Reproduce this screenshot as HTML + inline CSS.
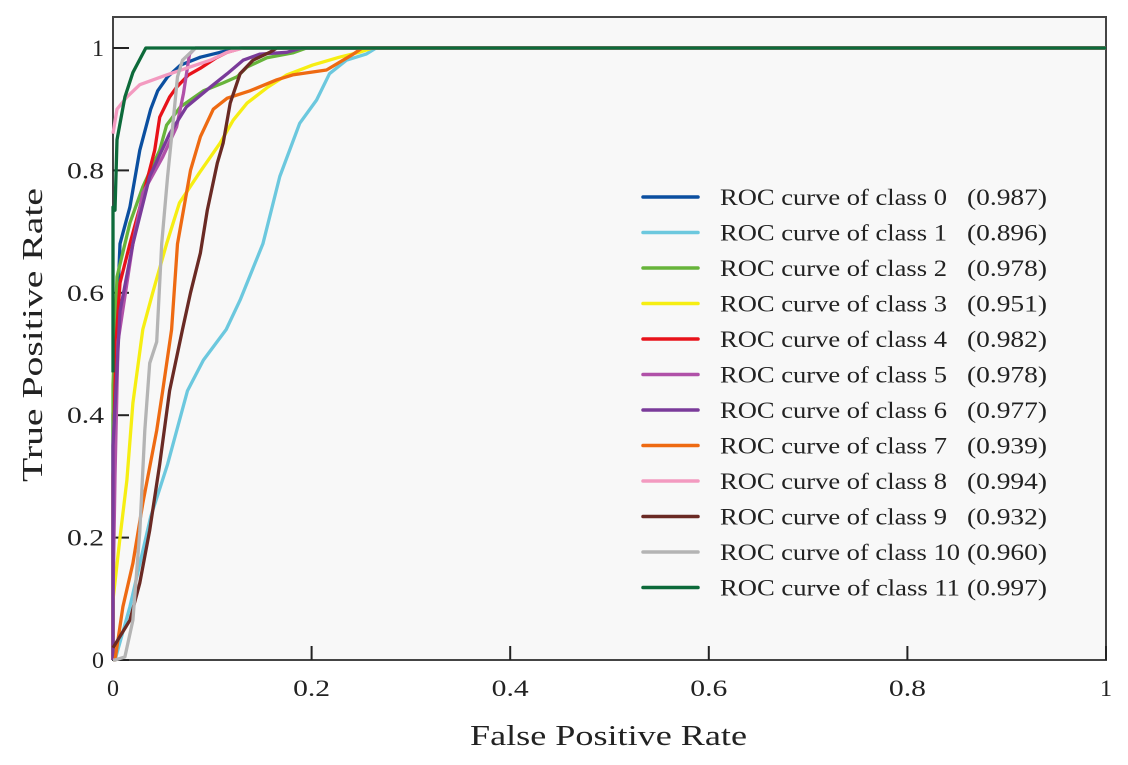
<!DOCTYPE html>
<html><head><meta charset="utf-8"><style>
html,body{margin:0;padding:0;background:#fff;}
svg{display:block;font-family:"Liberation Serif",serif;}
</style></head><body>
<svg id="chart" width="1128" height="765">
<rect x="113" y="17" width="993" height="643" fill="#f8f8f8" stroke="#444" stroke-width="2"/>
<g id="ticks"></g>
<g id="curves"></g>
<g id="legend"></g>
<text x="470" y="745" font-size="29" textLength="277" lengthAdjust="spacingAndGlyphs" fill="#222">False Positive Rate</text>
<text transform="translate(42,482) rotate(-90)" font-size="29" textLength="294" lengthAdjust="spacingAndGlyphs" fill="#222">True Positive Rate</text>
</svg>
<script>
const classNames = ["0","1","2","3","4","5","6","7","8","9","10","11"];
const aucValues = ["0.987","0.896","0.978","0.951","0.982","0.978","0.977","0.939","0.994","0.932","0.960","0.997"];
const colors = ["#0b4fa0","#6cc8de","#67b43a","#f6ee12","#e8121a","#b051a8","#7a3b9a","#ee6a12","#f39ac0","#6a2a24","#b4b4b4","#0d6a3a"];
const xTicks = [0,0.2,0.4,0.6,0.8,1];
const yTicks = [0,0.2,0.4,0.6,0.8,1];
const curve0 = [[0,0],[0,0.4],[0.007,0.68],[0.017,0.74],[0.027,0.833],[0.038,0.9],[0.045,0.93],[0.055,0.953],[0.068,0.972],[0.088,0.985],[0.108,0.993],[0.128,1],[1,1]];
const curve1 = [[0,0],[0.002,0],[0.017,0.087],[0.038,0.234],[0.055,0.32],[0.075,0.44],[0.091,0.49],[0.114,0.54],[0.128,0.588],[0.151,0.68],[0.168,0.79],[0.188,0.877],[0.205,0.915],[0.218,0.958],[0.235,0.98],[0.255,0.99],[0.265,1],[1,1]];
const curve2 = [[0,0],[0,0.45],[0.004,0.626],[0.017,0.714],[0.030,0.773],[0.047,0.833],[0.054,0.874],[0.068,0.904],[0.091,0.93],[0.111,0.943],[0.125,0.953],[0.135,0.969],[0.155,0.984],[0.181,0.992],[0.195,1],[1,1]];
const curve3 = [[0,0],[0,0.098],[0.007,0.2],[0.014,0.294],[0.02,0.42],[0.03,0.54],[0.04,0.6],[0.054,0.68],[0.067,0.747],[0.087,0.796],[0.108,0.845],[0.121,0.882],[0.135,0.91],[0.155,0.935],[0.175,0.956],[0.201,0.972],[0.228,0.985],[0.248,0.993],[0.261,1],[1,1]];
const curve4 = [[0,0],[0,0.3],[0.003,0.52],[0.007,0.616],[0.017,0.68],[0.030,0.757],[0.042,0.833],[0.047,0.887],[0.057,0.92],[0.064,0.936],[0.076,0.956],[0.088,0.967],[0.104,0.984],[0.115,0.993],[0.13,1],[1,1]];
const curve5 = [[0,0],[0,0.1],[0.002,0.3],[0.005,0.52],[0.02,0.68],[0.03,0.763],[0.05,0.822],[0.064,0.871],[0.071,0.926],[0.077,0.99],[0.083,1],[1,1]];
const curve6 = [[0,0],[0,0.35],[0.007,0.57],[0.02,0.68],[0.037,0.79],[0.057,0.86],[0.074,0.904],[0.098,0.936],[0.115,0.958],[0.131,0.98],[0.148,0.99],[0.175,0.993],[0.19,1],[1,1]];
const curve7 = [[0,0],[0.002,0],[0.01,0.087],[0.02,0.158],[0.03,0.256],[0.044,0.375],[0.05,0.44],[0.059,0.54],[0.065,0.68],[0.078,0.8],[0.088,0.855],[0.101,0.9],[0.115,0.918],[0.138,0.93],[0.165,0.948],[0.181,0.956],[0.215,0.964],[0.241,0.989],[0.251,1],[1,1]];
const curve8 = [[0,0.86],[0.004,0.9],[0.014,0.92],[0.027,0.94],[0.054,0.956],[0.074,0.967],[0.098,0.98],[0.115,0.993],[0.131,1],[1,1]];
const curve9 = [[0,0.02],[0.017,0.065],[0.027,0.126],[0.037,0.212],[0.047,0.32],[0.057,0.44],[0.07,0.54],[0.078,0.6],[0.088,0.665],[0.095,0.735],[0.105,0.812],[0.111,0.845],[0.118,0.91],[0.128,0.958],[0.141,0.98],[0.158,0.993],[0.165,1],[1,1]];
const curve10 = [[0,0],[0.002,0],[0.012,0.005],[0.02,0.065],[0.027,0.21],[0.032,0.375],[0.037,0.485],[0.044,0.52],[0.049,0.68],[0.055,0.79],[0.06,0.871],[0.065,0.953],[0.07,0.98],[0.083,1],[1,1]];
const curve11 = [[0,0.47],[0,0.74],[0.002,0.735],[0.004,0.85],[0.012,0.92],[0.02,0.96],[0.033,1],[1,1]];
const curves = [curve0,curve1,curve2,curve3,curve4,curve5,curve6,curve7,curve8,curve9,curve10,curve11];

const NS = "http://www.w3.org/2000/svg";
const X0 = 113, X1 = 1106, Y0 = 660, Y1 = 48;
function sx(v){ return X0 + v*(X1-X0); }
function sy(v){ return Y0 - v*(Y0-Y1); }
function mk(tag, attrs, parent){
  const e = document.createElementNS(NS, tag);
  for (const k in attrs) e.setAttribute(k, attrs[k]);
  parent.appendChild(e);
  return e;
}
function tw(s){ return s.length === 1 ? 12 : 37; }
const tg = document.getElementById('ticks');
xTicks.forEach((t,i)=>{
  const l = mk('line',{x1:sx(t),x2:sx(t),y1:Y0,y2:Y0-14,stroke:'#222','stroke-width':2},tg);
  
  
  const s = String(t);
  const tx = mk('text',{x:sx(t)-tw(s)/2,y:696,'font-size':23,fill:'#222',textLength:tw(s),lengthAdjust:'spacingAndGlyphs'},tg);
  tx.textContent = s;
  
  
});
yTicks.forEach((t,i)=>{
  const l = mk('line',{x1:X0,x2:X0+16,y1:sy(t),y2:sy(t),stroke:'#222','stroke-width':2},tg);
  
  
  const s = String(t);
  const tx = mk('text',{x:104-tw(s),y:sy(t)+8,'font-size':23,fill:'#222',textLength:tw(s),lengthAdjust:'spacingAndGlyphs'},tg);
  tx.textContent = s;
  
  
});
const cg = document.getElementById('curves');
curves.forEach((c,i)=>{
  const d = c.map((p,j)=>(j?'L':'M')+sx(p[0]).toFixed(1)+','+sy(p[1]).toFixed(1)).join(' ');
  const p = mk('path',{d:d,fill:'none',stroke:colors[i],'stroke-width':3.3,'stroke-linejoin':'round'},cg);
  
  
});
const lg = document.getElementById('legend');
classNames.forEach((n,i)=>{
  const y = 197 + i*35.5;
  const l = mk('line',{x1:643,x2:698,y1:y,y2:y,stroke:colors[i],'stroke-width':3.5,'stroke-linecap':'round'},lg);
  
  
  const t = mk('text',{x:720,y:y+8,'font-size':23,fill:'#222',textLength:(n.length>1?240:227),lengthAdjust:'spacingAndGlyphs'},lg);
  t.textContent = 'ROC curve of class '+n;
  
  
  const a = mk('text',{x:967,y:y+8,'font-size':23,fill:'#222',textLength:80,lengthAdjust:'spacingAndGlyphs'},lg);
  a.textContent = '('+aucValues[i]+')';
  
  
});
</script>
</body></html>
